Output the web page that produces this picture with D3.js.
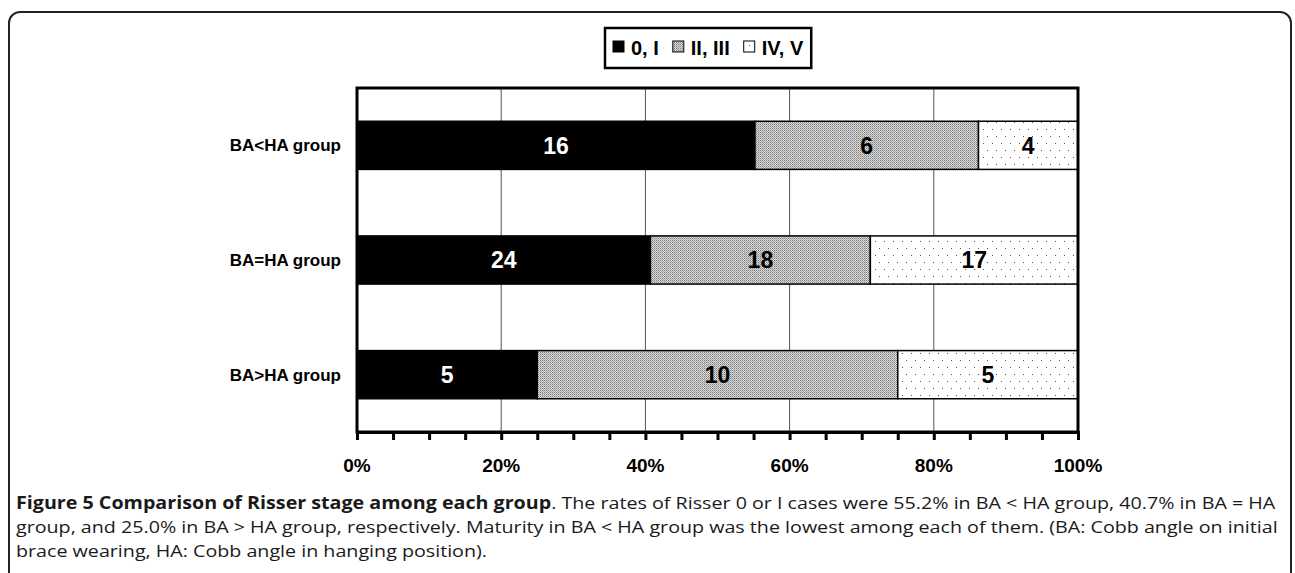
<!DOCTYPE html>
<html>
<head>
<meta charset="utf-8">
<script src="https://cdn.jsdelivr.net/npm/d3@7"></script>
<style>
  body { margin: 0; background: #fff; }
  svg { display: block; }
</style>
</head>
<body>
<svg id="chart" width="1295" height="573"></svg>
<script>
// data
const groups = ["BA<HA group", "BA=HA group", "BA>HA group"];
const stages = ["0, I", "II, III", "IV, V"];
// segment shares (%) as drawn
const pct01 = [55.2, 40.7, 25.0];
const pct23 = [31.0, 30.5, 50.0];
const pct45 = [13.8, 28.8, 25.0];
// numbers printed inside the bars
const lab01 = [16, 24, 5];
const lab23 = [6, 18, 10];
const lab45 = [4, 17, 5];
const xTicks = [0, 20, 40, 60, 80, 100];
const captionBold = "Figure 5 Comparison of Risser stage among each group";
const captionLines = [
  ". The rates of Risser 0 or I cases were 55.2% in BA < HA group, 40.7% in BA = HA",
  "group, and 25.0% in BA > HA group, respectively. Maturity in BA < HA group was the lowest among each of them. (BA: Cobb angle on initial",
  "brace wearing, HA: Cobb angle in hanging position)."
];

const rows = groups.map((g, i) => ({
  group: g,
  pcts: [pct01[i], pct23[i], pct45[i]],
  labels: [lab01[i], lab23[i], lab45[i]]
}));

const svg = d3.select("#chart");

// patterns
const defs = svg.append("defs");
const pGray = defs.append("pattern").attr("id", "pGray")
  .attr("patternUnits", "userSpaceOnUse").attr("width", 2).attr("height", 2);
pGray.append("rect").attr("width", 2).attr("height", 2).attr("fill", "#d9d9d9");
pGray.append("rect").attr("x", 0).attr("y", 0).attr("width", 1).attr("height", 1).attr("fill", "#7a7a7a");
pGray.append("rect").attr("x", 1).attr("y", 1).attr("width", 1).attr("height", 1).attr("fill", "#a8a8a8");

const pDot = defs.append("pattern").attr("id", "pDot")
  .attr("patternUnits", "userSpaceOnUse").attr("width", 9).attr("height", 14);
pDot.append("rect").attr("width", 9).attr("height", 14).attr("fill", "#fff");
pDot.append("rect").attr("x", 2).attr("y", 3).attr("width", 1).attr("height", 1).attr("fill", "#555");
pDot.append("rect").attr("x", 6).attr("y", 10).attr("width", 1).attr("height", 1).attr("fill", "#555");

const fills = ["#000", "url(#pGray)", "url(#pDot)"];
const labelColors = ["#fff", "#000", "#000"];
const arial = "Liberation Sans, Arial, sans-serif";

// outer figure frame
svg.append("rect")
  .attr("x", 9).attr("y", 12).attr("width", 1282).attr("height", 640)
  .attr("rx", 11).attr("fill", "none").attr("stroke", "#222").attr("stroke-width", 2);

// plot area
const plot = { left: 357, right: 1078, top: 88, bottom: 432 };

const x = d3.scaleLinear().domain([0, 100]).range([plot.left, plot.right]);
const y = d3.scaleBand().domain(groups).range([plot.top, plot.bottom]).paddingInner(0.58).paddingOuter(0.29);

const g = svg.append("g");

// gridlines
g.selectAll(".grid").data(xTicks.slice(1, -1)).join("line")
  .attr("x1", d => x(d)).attr("x2", d => x(d))
  .attr("y1", plot.top).attr("y2", plot.bottom)
  .attr("stroke", "#555").attr("stroke-width", 1);

// stacked bars
rows.forEach(r => {
  let acc = 0;
  r.pcts.forEach((p, k) => {
    const p0 = acc;
    acc += p;
    const p1 = k === r.pcts.length - 1 ? 100 : acc;
    g.append("rect")
      .attr("x", x(p0)).attr("y", y(r.group))
      .attr("width", x(p1) - x(p0)).attr("height", y.bandwidth())
      .attr("fill", fills[k]).attr("stroke", "#000").attr("stroke-width", 1.5);
    g.append("text")
      .attr("x", (x(p0) + x(p1)) / 2).attr("y", y(r.group) + y.bandwidth() / 2)
      .attr("dy", "0.36em").attr("text-anchor", "middle")
      .attr("font-family", arial).attr("font-weight", "bold")
      .attr("font-size", 23).attr("fill", labelColors[k])
      .text(r.labels[k]);
  });
});

// plot frame
g.append("rect")
  .attr("x", plot.left).attr("y", plot.top)
  .attr("width", plot.right - plot.left).attr("height", plot.bottom - plot.top)
  .attr("fill", "none").attr("stroke", "#000").attr("stroke-width", 3);

// x axis, minor ticks every 5%
const xAxis = d3.axisBottom(x).tickValues(d3.range(0, 101, 5)).tickSize(8).tickFormat("");
const ax = g.append("g").attr("transform", `translate(0,${plot.bottom})`).call(xAxis);
ax.select(".domain").attr("stroke", "#000").attr("stroke-width", 3);
ax.selectAll(".tick line").attr("stroke", "#000").attr("stroke-width", 3);

g.selectAll(".xlab").data(xTicks).join("text")
  .attr("x", d => x(d)).attr("y", 472)
  .attr("text-anchor", "middle")
  .attr("font-family", arial).attr("font-weight", "bold")
  .attr("font-size", 19).text(d => d + "%");

// category labels
g.selectAll(".ylab").data(groups).join("text")
  .attr("x", 341).attr("y", d => y(d) + y.bandwidth() / 2)
  .attr("dy", "0.36em").attr("text-anchor", "end")
  .attr("font-family", arial).attr("font-weight", "bold")
  .attr("font-size", 17).text(d => d);

// legend
const leg = svg.append("g");
const legBox = leg.append("rect").attr("x", 605).attr("y", 28).attr("height", 40)
  .attr("fill", "#fff").attr("stroke", "#000").attr("stroke-width", 2.5);
let lx = 613;
stages.forEach((s, k) => {
  leg.append("rect").attr("x", lx).attr("y", 41).attr("width", 11).attr("height", 11)
    .attr("fill", fills[k]).attr("stroke", "#000").attr("stroke-width", 1);
  const t = leg.append("text").attr("x", lx + 18).attr("y", 55)
    .attr("font-family", arial).attr("font-weight", "bold")
    .attr("font-size", 20).text(s);
  lx += 18 + t.node().getComputedTextLength() + 14;
});
legBox.attr("width", lx - 605 - 6);

// caption: fixed size, stretched horizontally so line 1 spans the frame
const capSize = 17;
const cap = svg.append("g")
  .attr("font-family", "Open Sans, Noto Sans, sans-serif").attr("font-size", capSize).attr("fill", "#1a1a1a");
const t1 = cap.append("text").attr("x", 0).attr("y", 509);
t1.append("tspan").attr("font-weight", "bold").text(captionBold);
t1.append("tspan").text(captionLines[0]);
cap.append("text").attr("x", 0).attr("y", 533).text(captionLines[1]);
cap.append("text").attr("x", 0).attr("y", 557).text(captionLines[2]);
const sx = 1261 / t1.node().getComputedTextLength();
cap.attr("transform", `translate(16,0) scale(${sx},1)`);
</script>
</body>
</html>
